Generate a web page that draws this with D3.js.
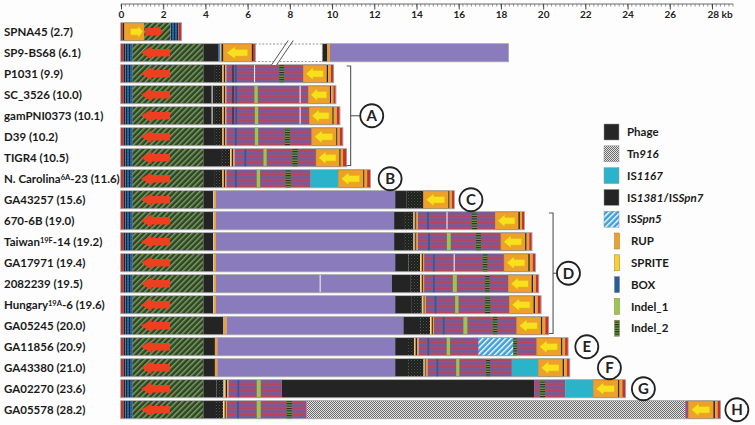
<!DOCTYPE html>
<html><head><meta charset="utf-8">
<script src="https://cdn.jsdelivr.net/npm/d3@7"></script>
<style>
body{margin:0;background:#fdfdfd;}
svg{display:block;font-family:Lato,"Open Sans",sans-serif;}
</style></head><body>
<svg id="c" width="755" height="425"></svg>
<script>
// ---------------- DATA ----------------
const rowLabels = ["SPNA45 (2.7)","SP9-BS68 (6.1)","P1031 (9.9)","SC_3526 (10.0)","gamPNI0373 (10.1)","D39 (10.2)","TIGR4 (10.5)","N. Carolina^6A^-23 (11.6)","GA43257 (15.6)","670-6B (19.0)","Taiwan^19F^-14 (19.2)","GA17971 (19.4)","2082239 (19.5)","Hungary^19A^-6 (19.6)","GA05245 (20.0)","GA11856 (20.9)","GA43380 (21.0)","GA02270 (23.6)","GA05578 (28.2)"];

const axisTicks = [0,2,4,6,8,10,12,14,16,18,20,22,24,26,28];
const axisMinorStep = 0.2;
const axisMax = 29;

// shared start of every locus except SPNA45 (kb)
const leftCommon = [["R",0,0.12],["K",0.12,0.2],["BH",0.2,0.55],["G",0.55,3.9]];

// per-row features [type, start kb, end kb]
const rowSegments = [
 [["R",0,0.08],["K",0.08,0.16],["UR",0.16,1.1],["G",1.1,2.35],["BH",2.35,2.72],["R",2.72,2.85]],
 [["K",3.9,4.6],["B",4.6,4.68],["O",4.7,4.76],["K",4.76,4.85],["U",4.85,6.2],["K",6.2,6.25],["R",6.25,6.35],["GAP",6.35,9.55],["K",9.55,9.78],["O",9.78,9.9],["L",9.9,18.34]],
 [["K",3.9,4.45],["H",4.45,4.8],["O",4.82,4.88],["K",4.88,4.93],["O",4.93,4.99],["M",4.99,8.64],["K",5.28,5.33],["B",5.4,5.48],["W",6.3,6.34],["I2",7.5,7.72],["U",8.64,9.75],["K",9.75,9.82],["O",9.82,9.95],["R",9.95,10.06]],
 [["K",3.9,4.3],["W",4.3,4.34],["K",4.34,4.45],["H",4.45,4.8],["O",4.82,4.88],["K",4.88,4.93],["O",4.93,4.99],["M",4.99,8.88],["K",5.28,5.33],["B",5.42,5.5],["I1",6.32,6.48],["W",8.46,8.5],["U",8.88,9.9],["K",9.9,9.96],["O",9.96,10.06],["R",10.06,10.17]],
 [["K",3.9,4.3],["W",4.3,4.34],["K",4.34,4.45],["H",4.45,4.8],["O",4.82,4.88],["K",4.88,4.93],["O",4.93,4.99],["M",4.99,8.93],["K",5.28,5.33],["B",5.42,5.5],["I1",6.34,6.5],["W",8.46,8.5],["U",8.93,10.02],["K",10.02,10.08],["O",10.08,10.22],["R",10.22,10.36]],
 [["K",3.9,4.45],["H",4.45,4.8],["O",4.82,4.88],["K",4.88,4.93],["O",4.93,4.99],["M",4.99,9.04],["B",5.4,5.48],["I1",6.34,6.5],["I2",7.77,8.0],["U",9.04,10.2],["K",10.2,10.26],["O",10.26,10.36],["R",10.36,10.5]],
 [["K",3.9,4.74],["H",4.74,5.17],["O",5.2,5.26],["K",5.26,5.32],["O",5.32,5.38],["M",5.38,9.24],["B",5.85,5.93],["I1",6.75,6.9],["I2",8.12,8.37],["U",9.24,10.35],["K",10.35,10.41],["O",10.41,10.52],["R",10.52,10.68]],
 [["K",3.9,4.45],["H",4.45,4.8],["O",4.82,4.88],["K",4.88,4.93],["O",4.93,4.99],["M",4.99,8.99],["B",5.4,5.48],["I1",6.43,6.59],["I2",7.8,8.04],["C",8.99,10.3],["U",10.3,11.48],["K",11.48,11.54],["O",11.54,11.66],["R",11.66,11.8]],
 [["K",3.9,4.37],["O",4.41,4.5],["L",4.5,12.99],["K",12.99,13.54],["H",13.54,14.33],["U",14.33,15.51],["K",15.51,15.57],["O",15.57,15.67],["R",15.67,15.78]],
 [["K",3.9,4.37],["O",4.41,4.5],["L",4.5,12.94],["K",12.94,13.41],["H",13.41,13.85],["O",13.88,13.94],["K",13.94,14.0],["O",14.0,14.06],["M",14.06,17.73],["B",14.5,14.58],["W",15.42,15.46],["I2",16.62,16.86],["U",17.73,18.83],["K",18.83,18.9],["O",18.9,19.0],["R",19.0,19.1]],
 [["K",3.9,4.37],["O",4.41,4.5],["L",4.5,12.94],["K",12.94,13.41],["H",13.41,13.85],["O",13.88,13.94],["K",13.94,14.0],["O",14.0,14.06],["M",14.06,18.0],["B",14.55,14.63],["I1",15.44,15.62],["I2",16.82,17.05],["U",18.0,19.15],["K",19.15,19.22],["O",19.22,19.34],["R",19.34,19.46]],
 [["K",3.9,4.37],["O",4.41,4.5],["L",4.5,12.99],["K",12.99,13.62],["H",13.62,14.17],["O",14.2,14.26],["K",14.26,14.3],["O",14.3,14.36],["M",14.36,18.15],["B",14.78,14.86],["W",15.76,15.8],["I2",17.14,17.36],["U",18.15,19.3],["K",19.3,19.37],["O",19.37,19.5],["R",19.5,19.62]],
 [["K",3.9,4.37],["O",4.41,4.5],["L",4.5,12.83],["W",9.41,9.45],["K",12.83,13.7],["H",13.7,14.17],["O",14.2,14.26],["K",14.26,14.3],["O",14.3,14.36],["M",14.36,18.36],["B",14.78,14.86],["I1",15.72,15.91],["I2",17.25,17.46],["U",18.36,19.46],["K",19.46,19.53],["O",19.53,19.65],["R",19.65,19.78]],
 [["K",3.9,4.37],["O",4.41,4.5],["L",4.5,12.99],["K",12.99,13.78],["H",13.78,14.25],["O",14.28,14.34],["K",14.34,14.38],["O",14.38,14.44],["M",14.44,18.4],["B",14.86,14.94],["I1",15.83,15.99],["I2",17.25,17.49],["U",18.4,19.55],["K",19.55,19.62],["O",19.62,19.74],["R",19.74,19.89]],
 [["K",3.9,4.85],["O",4.87,5.0],["L",5.0,13.38],["K",13.38,14.17],["H",14.17,14.64],["O",14.67,14.73],["K",14.73,14.77],["O",14.77,14.83],["M",14.83,18.75],["B",15.25,15.33],["I1",16.22,16.41],["I2",17.62,17.83],["U",18.75,19.9],["K",19.9,19.97],["O",19.97,20.1],["R",20.1,20.25]],
 [["K",3.9,4.45],["O",4.45,4.56],["L",4.56,12.99],["K",12.99,13.55],["H",13.55,13.88],["O",13.9,13.96],["K",13.96,14.04],["O",14.04,14.1],["M",14.1,19.7],["B",14.52,14.6],["I1",15.43,15.59],["S5",16.93,18.59],["I2",18.59,18.75],["U",19.7,20.85],["K",20.85,20.92],["O",20.92,21.04],["R",21.04,21.17]],
 [["K",3.9,4.45],["O",4.45,4.56],["L",4.56,12.99],["K",12.99,13.6],["H",13.6,14.33],["O",14.36,14.42],["K",14.42,14.46],["O",14.46,14.52],["M",14.52,18.52],["B",14.95,15.03],["I1",15.88,16.03],["I2",17.3,17.49],["C",18.52,19.78],["U",19.78,20.93],["K",20.93,21.0],["O",21.0,21.12],["R",21.12,21.25]],
 [["K",3.9,4.53],["H",4.53,4.85],["O",4.9,4.96],["K",4.96,5.03],["O",5.03,5.09],["M",5.09,7.62],["B",5.52,5.6],["I1",6.43,6.62],["K",7.62,19.57],["M",19.57,21.04],["I2",19.86,20.09],["C",21.04,22.38],["U",22.38,23.55],["K",23.55,23.62],["O",23.62,23.75],["R",23.75,23.89]],
 [["K",3.9,4.5],["H",4.5,4.83],["O",4.86,4.92],["K",4.92,4.96],["O",4.96,5.02],["M",5.02,8.8],["B",5.5,5.58],["I1",6.43,6.62],["I2",7.85,8.09],["T",8.8,26.73],["M",26.73,26.89],["U",26.89,28.07],["K",28.07,28.14],["O",28.14,28.26],["R",28.26,28.39]]
];

// red arrows [row, start kb, end kb, direction]
const redArrows = [[0,1.15,2.0,"R"],[1,0.95,2.32,"L"],[2,0.95,2.32,"L"],[3,0.95,2.32,"L"],[4,0.95,2.32,"L"],[5,0.95,2.32,"L"],[6,0.95,2.32,"L"],[7,0.95,2.32,"L"],[8,0.95,2.32,"L"],[9,0.95,2.32,"L"],[10,0.95,2.32,"L"],[11,0.95,2.32,"L"],[12,0.95,2.32,"L"],[13,0.95,2.32,"L"],[14,0.95,2.32,"L"],[15,0.95,2.32,"L"],[16,0.95,2.32,"L"],[17,0.95,2.32,"L"],[18,0.95,2.32,"L"]];

// break marks in SP9-BS68 [row, bottom kb, top kb]
const breakMarks = [[1,7.13,7.92],[1,7.37,8.16]];

// brackets [first row, last row, kb]
const brackets = [[2,6,10.88],[9,14,20.47]];
// group circles [letter, kb, row position]
const groupCircles = [["A",11.88,4],["B",12.75,7],["C",16.58,8],["D",21.2,11.5],["E",22.07,15],["F",23.14,16],["G",24.75,17],["H",29.18,18]];

const legendBoxes = [["Phage","PH"],["Tn*916*","T"],["IS*1167*","C"],["IS*1381*/IS*Spn7*","K"],["IS*Spn5*","S5"]];
const legendBars = [["RUP","O"],["SPRITE","Y"],["BOX","B"],["Indel_1","I1"],["Indel_2","I2"]];

// ---------------- DRAW ----------------
const svg = d3.select("#c");
const defs = svg.append("defs");
function pat(id,w,h,draw,tr){
  const p = defs.append("pattern").attr("id",id).attr("patternUnits","userSpaceOnUse").attr("width",w).attr("height",h);
  if(tr) p.attr("patternTransform",tr);
  draw(p);
}
pat("pG",4,4,p=>{p.append("rect").attr("width",4).attr("height",4).attr("fill","#2f4327");p.append("rect").attr("width",1.5).attr("height",4).attr("fill","#7a9f5e");},"rotate(45)");
pat("pM",4,3,p=>{p.append("rect").attr("width",4).attr("height",3).attr("fill","#7a5c9a");p.append("rect").attr("width",4).attr("height",1.3).attr("fill","#b4455f");});
pat("pBH",3,3,p=>{p.append("rect").attr("width",3).attr("height",3).attr("fill","#1f5fa0");p.append("rect").attr("width",1).attr("height",3).attr("fill","#16283a");p.append("rect").attr("x",1.5).attr("y",1).attr("width",1).attr("height",1).attr("fill","#3a7a9a");});
pat("pH",3,3,p=>{p.append("rect").attr("width",3).attr("height",3).attr("fill","#1e1e1e");p.append("rect").attr("width",1).attr("height",1).attr("fill","#4a5a46");p.append("rect").attr("x",1.5).attr("y",1.5).attr("width",1).attr("height",1).attr("fill","#3a463a");});
pat("pT",2,2,p=>{p.append("rect").attr("width",2).attr("height",2).attr("fill","#e4e4e4");p.append("rect").attr("width",1).attr("height",1).attr("fill","#6a6a6a");p.append("rect").attr("x",1).attr("y",1).attr("width",1).attr("height",1).attr("fill","#6a6a6a");});
pat("pS5",4,4,p=>{p.append("rect").attr("width",4).attr("height",4).attr("fill","#3c9fdb");p.append("rect").attr("width",1.4).attr("height",4).attr("fill","#ffffff");},"rotate(45)");
pat("pI2",4,2.4,p=>{p.append("rect").attr("width",4).attr("height",2.4).attr("fill","#6c9c4a");p.append("rect").attr("width",4).attr("height",1.1).attr("fill","#1a2e1a");});

const fills = {R:"#c3322b",K:"#242424",PH:"#262626",O:"#efa02c",Y:"#f6d32a",B:"#1d5fa8",W:"#eeeeee",I1:"#95c94d",I2:"url(#pI2)",G:"url(#pG)",BH:"url(#pBH)",H:"url(#pH)",M:"url(#pM)",L:"#8a7bbd",C:"#2ab3c9",S5:"url(#pS5)",T:"url(#pT)",U:"#efa02c",UR:"#efa02c",GAP:"#ffffff"};

const x = d3.scaleLinear().domain([0,28]).range([121,712]);
const y = d3.scaleBand().domain(d3.range(rowLabels.length)).range([23,418.5]).paddingInner(3.5/21).paddingOuter(0);
const bh = y.bandwidth();
const yc = r => y(Math.floor(r)) + (r%1)*y.step() + bh/2;

// axis
const axisG = svg.append("g").attr("transform","translate(0,4)");
axisG.append("line").attr("x1",x(0)).attr("x2",x(axisMax)).attr("stroke","#444").attr("stroke-width",0.8);
axisG.selectAll("line.mn").data(d3.range(0,axisMax+0.001,axisMinorStep)).join("line").attr("class","mn")
  .attr("x1",d=>x(d)).attr("x2",d=>x(d)).attr("y1",0).attr("y2",2.6).attr("stroke","#555").attr("stroke-width",0.6);
const ax = d3.axisBottom(x).tickValues(axisTicks).tickSize(5.5).tickFormat(d=> d===28 ? "28 kb" : d);
const axG2 = axisG.append("g").call(ax);
axG2.select(".domain").remove();
axG2.selectAll(".tick line").attr("stroke","#333").attr("stroke-width",0.9);
axG2.selectAll(".tick text").attr("font-size",10).attr("font-weight",700).attr("fill","#222").attr("font-family","Lato, sans-serif").attr("dy","0.55em");
axG2.selectAll(".tick").filter(d=>d===28).select("text").attr("text-anchor","start").attr("dx","-5");

// labels
const lab = svg.append("g").selectAll("text").data(rowLabels).join("text")
  .attr("x",4).attr("y",(d,i)=>y(i)+bh/2).attr("dy","0.36em")
  .attr("font-size",11.5).attr("font-weight",700).attr("fill","#1a1a1a");
lab.each(function(d){
  const parts = d.split("^"); const t = d3.select(this);
  parts.forEach((p,k)=>{
    if(k%2===1) t.append("tspan").attr("font-size",7.5).attr("dy","-0.45em").text(p);
    else if(k>0) t.append("tspan").attr("dy","0.3em").text(p);
    else t.append("tspan").text(p);
  });
});

// bars
const barsG = svg.append("g");
function arrowPts(x0,x1,c,bodyH,headH,headL,dir){
  const w = x1-x0;
  const pts = [[0,0],[headL,-headH/2],[headL,-bodyH/2],[w,-bodyH/2],[w,bodyH/2],[headL,bodyH/2],[headL,headH/2]];
  return pts.map(([u,v])=> [dir==="L" ? x0+u : x1-u, c+v]);
}
rowSegments.forEach((segs,i)=>{
  const all = i===0 ? segs : leftCommon.concat(segs);
  const g = barsG.append("g");
  const top = y(i), c = top + bh/2;
  g.selectAll("rect").data(all).join("rect")
    .attr("x",d=>x(d[1])).attr("width",d=>Math.max(1.1,x(d[2])-x(d[1])))
    .attr("y",top).attr("height",bh)
    .attr("fill",d=>fills[d[0]])
    .attr("stroke",d=>d[0]==="GAP"?"#8a8a8a":(d[0]==="U"||d[0]==="UR")?"#c98a1a":"none")
    .attr("stroke-width",d=>d[0]==="GAP"?0.9:0.6)
    .attr("stroke-dasharray",d=>d[0]==="GAP"?"2,1.6":null);
  let pieces = []; let st = all[0][1], en = all[0][1];
  all.forEach(d=>{ if(d[0]==="GAP"){ pieces.push([st,en]); st = d[2]; en = d[2]; } else en = Math.max(en,d[2]); });
  pieces.push([st,en]);
  g.selectAll("rect.ol").data(pieces).join("rect").attr("class","ol")
    .attr("x",d=>x(d[0])-0.3).attr("width",d=>x(d[1])-x(d[0])+0.6).attr("y",top-0.3).attr("height",bh+0.6)
    .attr("fill","none").attr("stroke","#8d8d8d").attr("stroke-width",0.7);
  all.filter(d=>d[0]==="U"||d[0]==="UR").forEach(d=>{
    const a = x(d[1]), b = x(d[2]), w = b-a;
    const dir = d[0]==="U" ? "L" : "R";
    const x0 = dir==="L" ? a + 0.1*w : a + 0.3*w, x1 = dir==="L" ? b - 0.14*w : b - 0.05*w;
    const hl = (x1-x0)*0.42;
    g.append("polygon").attr("points",arrowPts(x0,x1,c,bh*0.4,bh*0.74,hl,dir).map(p=>p.join(",")).join(" "))
      .attr("fill","#f8e11c").attr("stroke","#d9a514").attr("stroke-width",0.6);
  });
});
// red arrows
redArrows.forEach(([r,a,b,dir])=>{
  const x0 = x(a), x1 = x(b), c = y(r)+bh/2;
  barsG.append("polygon").attr("points",arrowPts(x0,x1,c,bh*0.42,bh*0.74,(x1-x0)*0.36,dir).map(p=>p.join(",")).join(" "))
    .attr("fill","#ec4020");
});
// break marks
const bm = breakMarks;
barsG.append("polygon").attr("points",[[x(bm[0][1]),y(1)+bh+3.5],[x(bm[0][2]),y(1)-3.5],[x(bm[1][2]),y(1)-3.5],[x(bm[1][1]),y(1)+bh+3.5]].map(p=>p.join(",")).join(" ")).attr("fill","#fdfdfd");
barsG.selectAll("line.bk").data(bm).join("line").attr("class","bk")
  .attr("x1",d=>x(d[1])).attr("x2",d=>x(d[2])).attr("y1",d=>y(d[0])+bh+3.5).attr("y2",d=>y(d[0])-3.5)
  .attr("stroke","#555").attr("stroke-width",1);

// brackets
const brG = svg.append("g").attr("fill","none").attr("stroke","#555").attr("stroke-width",1.1);
brackets.forEach(([r0,r1,k])=>{
  const t = y(r0)+1, b = y(r1)+bh-1, xx = x(k);
  brG.append("path").attr("d",`M${xx-4},${t}H${xx}V${b}H${xx-4}`);
});
// circles
const cG = svg.append("g");
groupCircles.forEach(([L,k,r])=>{
  const cx = x(k), cy = yc(r);
  const br = brackets.find(b=> (b[0]+b[1])/2===r && Math.abs(x(b[2])-cx)<30);
  if(br) cG.append("line").attr("x1",x(br[2])).attr("x2",cx-12).attr("y1",cy).attr("y2",cy).attr("stroke","#555").attr("stroke-width",1.1);
  cG.append("circle").attr("cx",cx).attr("cy",cy).attr("r",11.5).attr("fill","#fdfdfd").attr("stroke","#222").attr("stroke-width",1.8);
  cG.append("text").attr("x",cx).attr("y",cy).attr("dy","0.36em").attr("text-anchor","middle")
    .attr("font-size",15).attr("font-weight",700).attr("fill","#222").text(L);
});

// legend
const lg = svg.append("g");
const lgTop = 124, lgStep = 21.8;
function richText(t, s){
  s.split("*").forEach((p,k)=>{ if(p) t.append("tspan").attr("font-style",k%2?"italic":"normal").text(p); });
}
legendBoxes.forEach(([name,type],k)=>{
  const yy = lgTop + k*lgStep;
  lg.append("rect").attr("x",604).attr("y",yy).attr("width",15).attr("height",16).attr("fill",fills[type]).attr("stroke","#999").attr("stroke-width",0.5);
  const t = lg.append("text").attr("x",627).attr("y",yy+8).attr("dy","0.36em").attr("font-size",11.5).attr("font-weight",700).attr("fill","#1a1a1a");
  richText(t,name);
});
legendBars.forEach(([name,type],k)=>{
  const yy = lgTop + (k+5)*lgStep;
  lg.append("rect").attr("x",614.5).attr("y",yy).attr("width",5).attr("height",16).attr("fill",fills[type]).attr("stroke","#9a7a3a").attr("stroke-width",0.5);
  const t = lg.append("text").attr("x",631).attr("y",yy+8).attr("dy","0.36em").attr("font-size",11.5).attr("font-weight",700).attr("fill","#1a1a1a");
  richText(t,name);
});
</script>
</body></html>
